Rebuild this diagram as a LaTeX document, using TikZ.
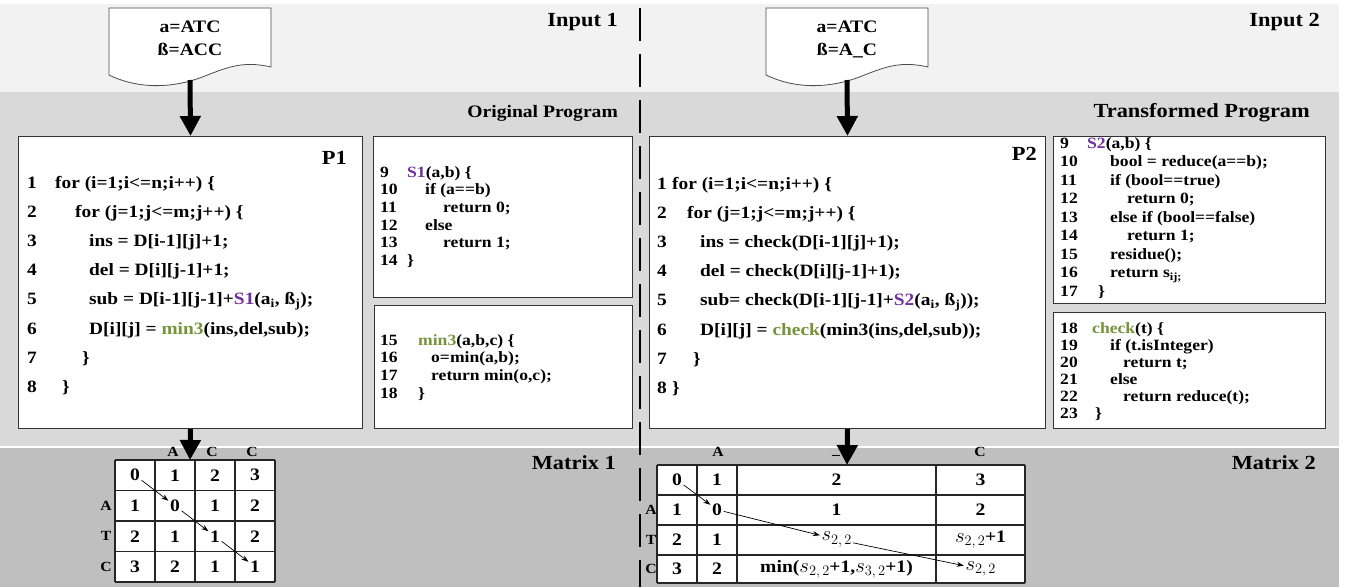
\documentclass[tikz,border=0pt]{standalone}
\usepackage{fontspec}
\setmainfont{Liberation Serif}[FakeStretch=1.12]
\usetikzlibrary{arrows.meta}

\definecolor{bandtop}{HTML}{F2F2F2}
\definecolor{bandmid}{HTML}{D9D9D9}
\definecolor{bandlow}{HTML}{BFBFBF}
\definecolor{fnpurple}{HTML}{7030A0}
\definecolor{fngreen}{HTML}{77933C}

\newcommand{\codeln}[3]{\makebox[#1][l]{#2}#3}
\newcommand{\sv}[1]{{\fontsize{20}{20}\selectfont$s$}\raisebox{-3.5pt}{\fontsize{15}{15}\selectfont$#1$}}

% code nodes are placed by the baseline of their last line
\tikzset{
  codebox/.style={rectangle, draw=black!80, fill=white, line width=1pt,
    anchor=north west, inner sep=0pt},
  maincode/.style={anchor=base west, align=left, inner sep=0pt,
    font=\fontsize{17.3}{29.2}\selectfont\bfseries},
  sidecode/.style={anchor=base west, align=left, inner sep=0pt,
    font=\fontsize{15.7}{#1}\selectfont\bfseries},
  sidecode/.default=17.7,
  title/.style={anchor=east, inner sep=0pt, font=\fontsize{20}{24}\selectfont\bfseries},
  docbox/.style={anchor=north, inner xsep=0pt, inner ysep=13pt, align=center,
    font=\fontsize{17.5}{23}\selectfont\bfseries},
  docline/.style={draw=black!70, fill=white, line width=0.8pt},
  divider/.style={line width=2.6pt, dash pattern=on 33pt off 13pt},
  bigarrow/.style={line width=5pt, -{Triangle[length=20pt,width=20pt]}},
  trace/.style={line width=0.7pt, -{Stealth[length=7pt,width=5pt]}},
  cell/.style={inner sep=1.5pt, font=\fontsize{17.5}{19}\selectfont\bfseries},
  hdr/.style={inner sep=0pt, font=\fontsize{14}{14}\selectfont\bfseries},
  gridline/.style={draw=black!85, line width=1.2pt}
}

\begin{document}
\begin{tikzpicture}[x=1pt, y=-1pt]
\useasboundingbox (0,0) rectangle (1348,587);

% bands
\fill[white] (0,0) rectangle (1348,587);
\fill[bandtop] (0,4) rectangle (1339,92);
\fill[bandmid] (0,92) rectangle (1339,446);
\fill[bandlow] (0,447.5) rectangle (1339,587);
\draw[divider] (640,8) -- (640,587);

\node[title] (lblInA) at (618,22) {Input 1};
\node[title] (lblInB) at (1320,22) {Input 2};
\node[title, font=\fontsize{17.5}{20}\selectfont\bfseries] (lblProgA) at (618,113) {Original Program};
\node[title] (lblProgB) at (1310,113) {Transformed Program};
\node[title] (lblMatA) at (616,463) {Matrix 1};
\node[title] (lblMatB) at (1316,463) {Matrix 2};

% input documents
\coordinate (docA) at (190,8);
\coordinate (docB) at (847,8);
\foreach \d in {docA,docB}
  \draw[docline] ([xshift=-81pt]\d) -- ([xshift=81pt]\d) -- ([xshift=81pt,yshift=-59pt]\d)
    .. controls +(-26,-6) and +(25,-10) .. ([xshift=15pt,yshift=-68pt]\d)
    .. controls +(-30,12) and +(31,15) .. ([xshift=-81pt,yshift=-67pt]\d) -- cycle;
\node[docbox] (inA) at (docA) {a=ATC\\ß=ACC};
\node[docbox] (inB) at (docB) {a=ATC\\ß=A\_C};

% program boxes
\node[codebox, minimum width=344pt, minimum height=292pt] (progA) at (18,136) {};
\node[codebox, minimum width=259pt, minimum height=161pt] (fnA1) at (373,136) {};
\node[codebox, minimum width=258pt, minimum height=123pt] (fnA2) at (374,305) {};
\node[codebox, minimum width=396pt, minimum height=292pt] (progB) at (649,136) {};
\node[codebox, minimum width=272pt, minimum height=167pt] (fnB1) at (1053,136) {};
\node[codebox, minimum width=272pt, minimum height=116pt] (fnB2) at (1053,312) {};

\node[title] (nameA) at (347,158) {P1};
\node[title] (nameB) at (1037,154) {P2};

\node[maincode] (codeA) at (27,392.4) {%
  \codeln{28pt}{1}{for (i=1;i<=n;i++) \{}\\
  \codeln{48pt}{2}{for (j=1;j<=m;j++) \{}\\
  \codeln{62pt}{3}{ins = D[i-1][j]+1;}\\
  \codeln{62pt}{4}{del = D[i][j-1]+1;}\\
  \codeln{62pt}{5}{sub = D[i-1][j-1]+\textcolor{fnpurple}{S1}(a\textsubscript{i}, ß\textsubscript{j});}\\
  \codeln{62pt}{6}{D[i][j] = \textcolor{fngreen}{min3}(ins,del,sub);}\\
  \codeln{55pt}{7}{\}}\\
  \codeln{35pt}{8}{\}}};

\node[sidecode] (codeA1) at (380,265.5) {%
  \codeln{27pt}{9}{\textcolor{fnpurple}{S1}(a,b) \{}\\
  \codeln{45pt}{10}{if (a==b)}\\
  \codeln{63pt}{11}{return 0;}\\
  \codeln{45pt}{12}{else}\\
  \codeln{63pt}{13}{return 1;}\\
  \codeln{27pt}{14}{\}}};

\node[sidecode] (codeA2) at (380,398.1) {%
  \codeln{38pt}{15}{\textcolor{fngreen}{min3}(a,b,c) \{}\\
  \codeln{51pt}{16}{o=min(a,b);}\\
  \codeln{51pt}{17}{return min(o,c);}\\
  \codeln{38pt}{18}{\}}};

\node[maincode] (codeB) at (657,393.4) {%
  \codeln{15pt}{1}{for (i=1;i<=n;i++) \{}\\
  \codeln{30pt}{2}{for (j=1;j<=m;j++) \{}\\
  \codeln{43pt}{3}{ins = check(D[i-1][j]+1);}\\
  \codeln{43pt}{4}{del = check(D[i][j-1]+1);}\\
  \codeln{43pt}{5}{sub= check(D[i-1][j-1]+\textcolor{fnpurple}{S2}(a\textsubscript{i}, ß\textsubscript{j}));}\\
  \codeln{43pt}{6}{D[i][j] = \textcolor{fngreen}{check}(min3(ins,del,sub));}\\
  \codeln{36pt}{7}{\}}\\
  \codeln{15pt}{8}{\}}};

\node[sidecode=18.5] (codeB1) at (1060,296) {%
  \codeln{27pt}{9}{\textcolor{fnpurple}{S2}(a,b) \{}\\
  \codeln{50pt}{10}{bool = reduce(a==b);}\\
  \codeln{50pt}{11}{if (bool==true)}\\
  \codeln{67pt}{12}{return 0;}\\
  \codeln{50pt}{13}{else if (bool==false)}\\
  \codeln{67pt}{14}{return 1;}\\
  \codeln{50pt}{15}{residue();}\\
  \codeln{50pt}{16}{return s\textsubscript{ij;}}\\
  \codeln{38pt}{17}{\}}};

\node[sidecode=17] (codeB2) at (1060,418) {%
  \codeln{32pt}{18}{\textcolor{fngreen}{check}(t) \{}\\
  \codeln{50pt}{19}{if (t.isInteger)}\\
  \codeln{63pt}{20}{return t;}\\
  \codeln{50pt}{21}{else}\\
  \codeln{63pt}{22}{return reduce(t);}\\
  \codeln{35pt}{23}{\}}};

% matrix 1
\fill[white] (115,460) rectangle (275,582);
\foreach \x in {115,155,195,235,275} \draw[gridline] (\x,460) -- (\x,582);
\foreach \y in {460,490.5,521,551.5,582} \draw[gridline] (115,\y) -- (275,\y);
\foreach \row [count=\ri from 0] in {{0,1,2,3},{1,0,1,2},{2,1,1,2},{3,2,1,1}}
  \foreach \v [count=\ci from 0] in \row
    \node[cell] (mA-\ri-\ci) at ({135+40*\ci},{475.25+30.5*\ri}) {\v};
\node[hdr] (hA1) at (173,452) {A};
\node[hdr] (hA2) at (212,452) {C};
\node[hdr] (hA3) at (252,452) {C};
\node[hdr] (rA1) at (106,506) {A};
\node[hdr] (rA2) at (106,536) {T};
\node[hdr] (rA3) at (106,567) {C};
\draw[trace] (mA-0-0) -- (mA-1-1);
\draw[trace] (mA-1-1) -- (mA-2-2);
\draw[trace] (mA-2-2) -- (mA-3-3);

% matrix 2
\fill[white] (657,465) rectangle (1025,583);
\foreach \x in {657,697,737,936,1025} \draw[gridline] (\x,465) -- (\x,583);
\foreach \y in {465,495,525,555,583} \draw[gridline] (657,\y) -- (1025,\y);
\foreach \row [count=\ri from 0] in {{0,1,2,3},{1,0,1,2},{2,1,{\sv{2,2}},{\sv{2,2}+1}},{3,2,{min(\sv{2,2}+1,\sv{3,2}+1)},{\sv{2,2}}}}
  \foreach \v [count=\ci from 0] in \row {
    \pgfmathsetmacro{\cx}{{677,717,836.5,980.5}[\ci]}
    \node[cell] (mB-\ri-\ci) at (\cx,{480+29.7*\ri}) {\v};
  }
\node[hdr] (hB1) at (718,452) {A};
\node[hdr] (hB2) at (836,455) {\_};
\node[hdr] (hB3) at (980,452) {C};
\node[hdr] (rB1) at (651,510) {A};
\node[hdr] (rB2) at (651,540) {T};
\node[hdr] (rB3) at (651,569) {C};
\draw[trace] (mB-0-0) -- (mB-1-1);
\draw[trace] (mB-1-1) -- (mB-2-2);
\draw[trace] (mB-2-2) -- (mB-3-3);

% flow arrows
\coordinate (topA) at (190,460);
\coordinate (topB) at (847,465);
\draw[bigarrow] ([yshift=-72pt]docA) -- (progA.north);
\draw[bigarrow] ([yshift=-72pt]docB) -- (progB.north);
\draw[bigarrow] (progA.south) -- (topA);
\draw[bigarrow] (progB.south) -- (topB);

\end{tikzpicture}
\end{document}
